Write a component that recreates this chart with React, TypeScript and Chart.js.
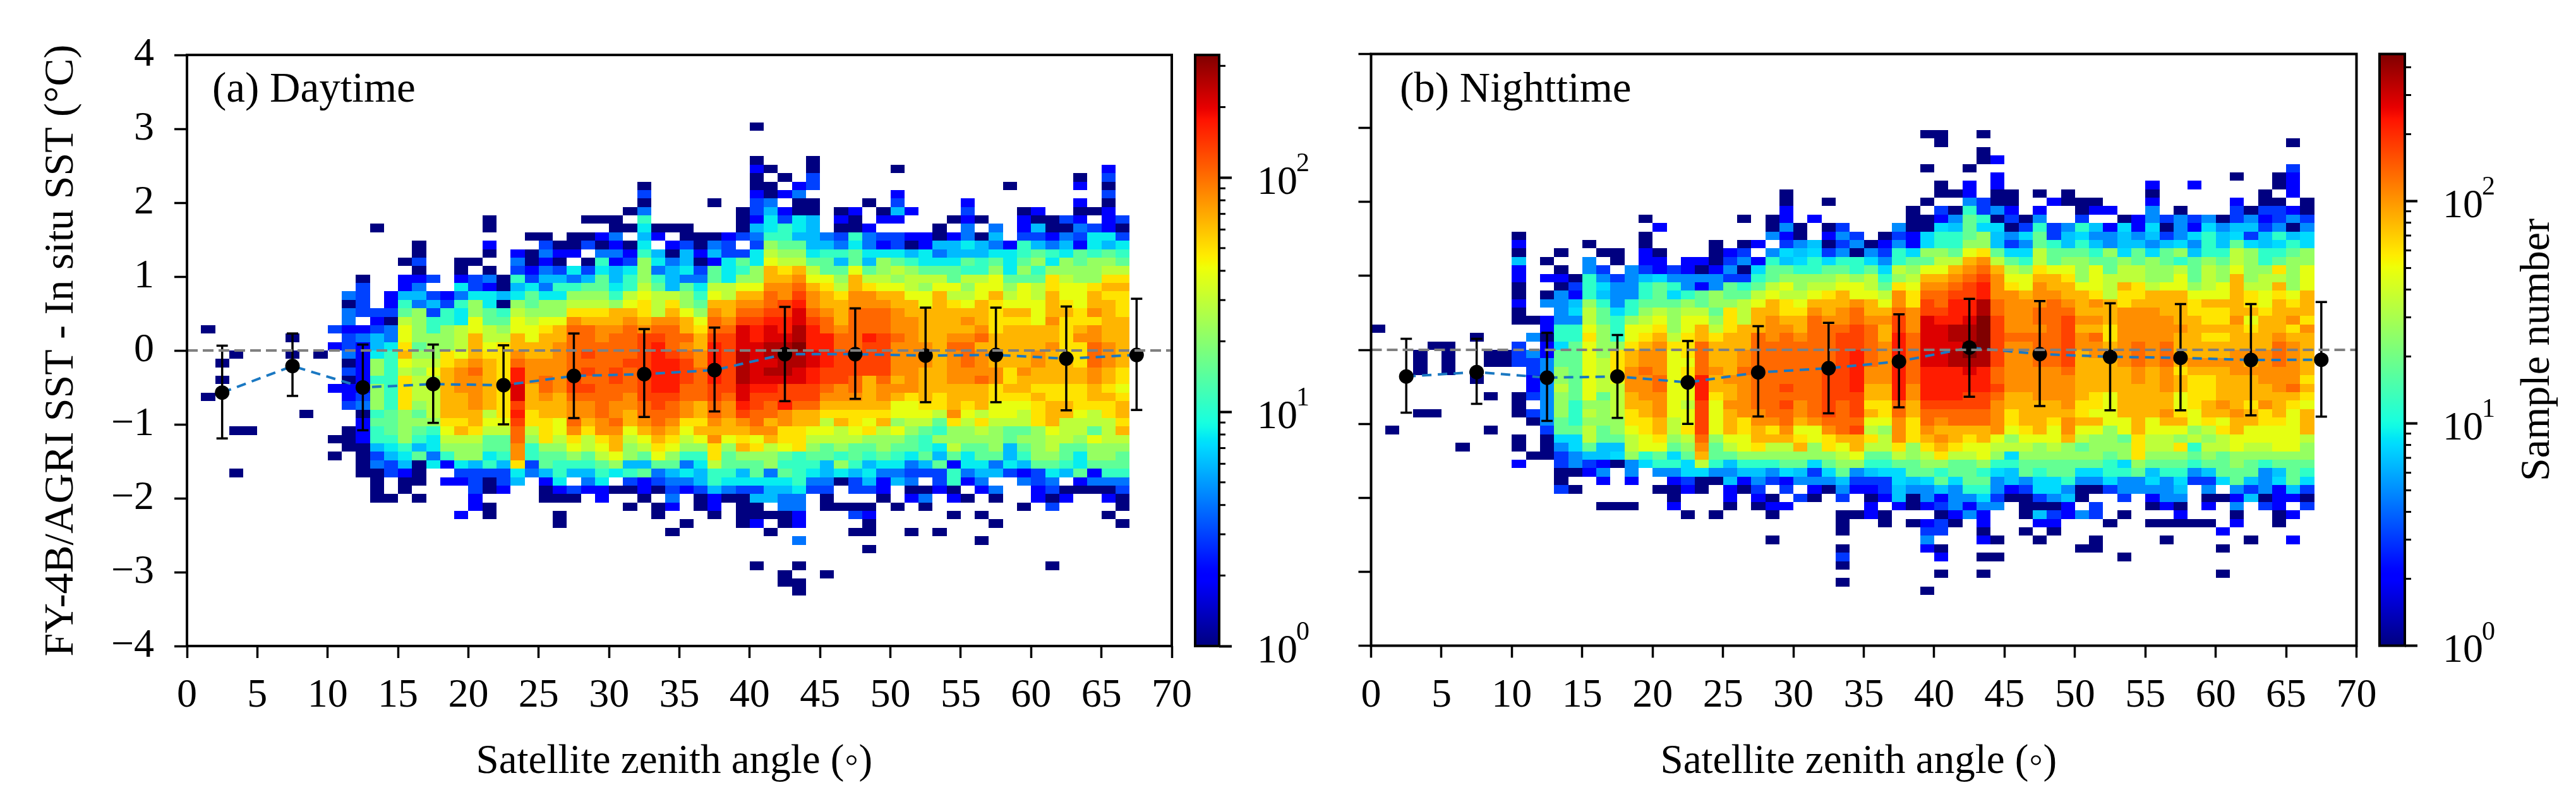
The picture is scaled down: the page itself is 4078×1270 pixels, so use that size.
import React, { useEffect, useRef } from "react";
import { Chart, registerables } from "chart.js";

Chart.register(...registerables);
Chart.defaults.font.family = '"Liberation Serif"';
Chart.defaults.color = "#000";

// ---- data ----
const MEAN_X = [2.5, 7.5, 12.5, 17.5, 22.5, 27.5, 32.5, 37.5, 42.5, 47.5, 52.5, 57.5, 62.5, 67.5];
const DAY_MEAN = [-0.57, -0.21, -0.5, -0.455, -0.47, -0.345, -0.32, -0.265, -0.05, -0.05, -0.07, -0.06, -0.11, -0.06];
const DAY_UP = [0.065, 0.23, 0.08, 0.08, 0.07, 0.23, 0.29, 0.31, 0.59, 0.57, 0.58, 0.58, 0.595, 0.7];
const DAY_LOW = [-1.19, -0.615, -1.08, -0.98, -1.0, -0.915, -0.9, -0.825, -0.686, -0.655, -0.7, -0.7, -0.81, -0.805];
const NIGHT_MEAN = [-0.36, -0.3, -0.376, -0.36, -0.44, -0.305, -0.248, -0.157, 0.03, -0.057, -0.094, -0.108, -0.137, -0.134];
const NIGHT_UP = [0.15, 0.15, 0.23, 0.2, 0.12, 0.32, 0.365, 0.48, 0.69, 0.66, 0.63, 0.62, 0.62, 0.647];
const NIGHT_LOW = [-0.85, -0.73, -0.96, -0.92, -1.0, -0.9, -0.857, -0.778, -0.635, -0.76, -0.818, -0.818, -0.886, -0.903];

const X_TICK_STEP = 5;
const BIN_H = 8 / 70;

// One character per 1-degree column, one string per row of the 70-row grid (top row = +4).
const LEVEL_CODES = "0123456789abcdefghij";
const DAY_COUNTS = [1, 2, 3, 4, 6, 8, 11, 15, 22, 29, 39, 49, 65, 83, 105, 133, 168, 210, 265, 330];
const NIGHT_COUNTS = [1, 2, 3, 5, 7, 8, 12, 18, 26, 35, 47, 60, 82, 105, 134, 172, 220, 280, 358, 459];
const DAY_VMAX = 334;
const NIGHT_VMAX = 459;

const DAY_FIRST_ROW = 8;
const DAY_ROWS = [
  ".......... .......... .......... .......... 0......... .......... .......",
  "",
  "",
  "",
  ".......... .......... .......... .......... 0...0..... .......... .......",
  ".......... .......... .......... .......... 10..0..... 0......... .....1.",
  ".......... .......... .......... .......... 0.0.2..... .......... ...0.2.",
  ".......... .......... .......... ..0....... 00.12..... ........0. ...1.0.",
  ".......... .......... .......... ..2....... 1013...... 1......... .....2.",
  ".......... .......... .......... ..0....0.. 23.00...0. 2....1.... ...1.0.",
  ".......... .......... .......... .03......0 24100.01.0 41...2...0 1..001.",
  ".......... .......... .0......00 0.6......0 15254.10.1 1...010..1 0021.12",
  ".......... ...0...... .0........ 005000...0 45654.001. ...0.3.3.1 4003210",
  ".......... .......... ....00.001 3.41.00012 3664432632 21101304.2 2132552",
  ".......... ......0... .1...20020 105.12032. 2877443531 2014454316 4341545",
  ".......... ......0... .0.10311.3 3164041422 5988566755 5453444556 7657676",
  ".......... .....02..0 0..3010.06 1285340157 5a99774748 7655576757 8587887",
  ".......... ......0..0 .0.2132525 4583452756 8cbc977a78 9877766858 6888899",
  ".......... ..0..112.1 2306244347 4686433758 8ccdaa8c99 8999799a77 7b988bb",
  ".......... ..2..13..5 2104536677 569747599a addecb9cba a98aa8aa8a 9baabcc",
  ".......... .32.144213 5545755888 69a9986a9c cedfdcbddc caac99ac9a 9caacbb",
  ".......... .02.163426 8508788999 8ab9b87ccd defgdccddd ccacbacbaa acbaccb",
  ".......... .322278265 8769888bbb ccb9ca8dce effhedceee dccccccbcc accbdcb",
  ".......... .3.1098665 a77a9aadcc cdcddcaedf fgghfeceee ddcccdcbbb adbbbcc",
  ".0........ 21123a8689 a98aabceed dedeecbeeh ghgigedeee ddccccdbcc ccbcdcc",
  ".......0.. .2343a8889 c99cacceed eeffeecffh ghhiggeegf edccddeccc ccbddcc",
  ".......... 12145b7889 cabcccdeee eefgedcgfh hiijggeeff dddceecccc cdbbedc",
  "...0...0.0 .3156c88ba cbbdccdefe eefgfedgfi hiiihgfeff dddcdedccc dcbbedc",
  "..0....... .0186a99bc dcbedddeee effggfdgfi hhiihgffff dddcdedccc dccbedc",
  ".......... .218698acd ecbgdddefe fefggfegfi hiihgfffff ddccddddbd ccccdcb",
  "..0....... .0166b99cd dcbgdedfee fefggfegfi hhhhgffece cdccddedbc ccccdcb",
  ".......... 11186b99cd dcbhcedffe eefggeeffh ggfffedecd ddcccccbcc bbbbcba",
  ".0........ .1286b99cc dcbhcdceee edfffeefeh fffffdddcd cbcbcccbbb cbbbccb",
  ".......... .2386b89cc dcbfcccdde ddefedcedg fegeeccccc aabbcbcaaa bccbbbc",
  "........0. ..067879cc c9bgbccdde dceeedcedf eedccbbbbb aaa9da9aa9 bcca9bc",
  ".......... ..177888bb caafbbaecd ecdedbbdcd ecdcc9cbac 8997b9b999 bc9999b",
  "...00..... .0167876ac b99e9badbd dacdcacccc ddbbaa9ab9 a876889877 8a9979c",
  ".......... 0016686599 977e8b9b9b c9acb9adab acbb999988 8768888878 8998a99",
  ".......... .004564588 877d688a9a c89ba88b8c b9ab878778 7765977847 8977888",
  ".......... 0.02457368 856d677879 a87a866b78 8876776767 6574757746 8875887",
  ".......... ..03240515 464b276667 8447735977 7866648645 5347155354 7765777",
  "...0...... ..00210..2 2225346446 5673454664 7376545453 3222634421 2547166",
  ".......... ...0.00.11 2024.15.35 .212334655 5556330241 43.2613..3 23.1333",
  ".......... ...0.0.... 201..01211 0010212432 244522.221 .0010.13.. 1200002",
  ".......... ...00.0... 1....000.1 ..0.3.0100 4433.0...0 .13.10.0.. 101..10",
  ".......... .......... 10........ .0.01.01.0 0.33.0000. 0.0......0 .2....0",
  ".......... .........1 .0....0... ...0...0.0 0001...21. ....0.0... .....0.",
  ".......... .......... ......0... .....0...0 1.01....0. .......0.. ......0",
  ".......... .......... .......... ....0..... .0.....00. .0.0...... .......",
  ".......... .......... .......... .......... ...3...... ......0... .......",
  ".......... .......... .......... .......... ........0. .......... .......",
  "",
  ".......... .......... .......... .......... 0..0...... .......... .0.....",
  ".......... .......... .......... .......... ..0..0.... .......... .......",
  ".......... .......... .......... .......... ..00...... .......... .......",
  ".......... .......... .......... .......... ...0...... .......... .......",
];

const NIGHT_FIRST_ROW = 9;
const NIGHT_ROWS = [
  ".......... .......... .......... .........0 0..0...... .......... .......",
  ".......... .......... .......... .......... 0......... .......... .....0.",
  ".......... .......... .......... .......... ...0...... .......... .......",
  ".......... .......... .......... .......... ...01..... .......... .......",
  ".......... .......... .......... .........0 ..0....... .......... .....2.",
  ".......... .......... .......... .......... ....1..... .......... .0..01.",
  ".......... .......... .......... .......... 0.1.1..... .....1..1. ....01.",
  ".......... .......... .........0 .......... 001.00.0.0 .....0.... ...0.1.",
  ".......... .......... .........0 ..0......0 ..3200..10 00...1.... .1.00.0",
  ".......... .......... .........1 ........0. 206231.1.. 011..3.0.. .202210",
  ".......... .........0 ......0.01 .1......00 13760203.. 2..0132323 0231232",
  ".......... .......... 1.......03 0.02...300 5475502623 6415150315 3442303",
  ".......... 0........0 ........31 0.132.0215 6678435724 5334342356 4524645",
  ".......... 1....0...0 ....0.01.2 3402301315 6688423764 6434434536 4754565",
  ".......... 0..0..00.1 0...012.35 4523032658 87ab755977 7685757846 6986678",
  ".......... 4.0..3.0.1 1.11023164 5656653677 99cd976978 8778787678 7986788",
  ".......... 1..0.32.32 1210130577 667767598a acdec98baa 8a79988979 8a88b8a",
  ".......... 1.11063234 5333322678 888989689c cdefdaaccb 8a99988a79 8c8998a",
  ".......... 0..0265336 763137679a 899aa97bad defgdbadcc aa9cb9aa89 ac99c8a",
  ".......... 0.03164336 75678779a9 9abcaa9dbe effgddcddc cb9bbcccaa acbabac",
  ".......... 1.33486367 7787889acb acccdcadbf eggieddded cdcbccccbc ccbacbc",
  ".......... 0..3597568 98997b9ccb bdcdeccedf fggieddeee cccdddccbb bccbccc",
  ".......... 0013397689 a8aa8b9cdc ceddeddfdh gghjfddeef ddcddddccb bdaccdb",
  "0......... ..166a86aa b8ac9bccdd ceeefecfdh hiijfdddef ccbdddddcc ccbccbd",
  ".......0.. .3066b86ab c9bcbccede deeffecgeh hiijfeeeef debddddccb bcccdcc",
  "....00.... 2.157a88bc dbbeccceee eeeffedgeh hhjjfddeef ddcdedeccc ccccedc",
  "...0.0..00 23177a8bcd dabeccdeee eeefgedgeh hijifddeef cdddedeccc cdddedc",
  "...0.0..00 22377a9bcd daaeccdeee eeefgedgeh hiiifddeef cccdedecdd ddcdedc",
  "...0.0.... .2387a9bde dabedceeee eeffgddgeg gghgedddde ccccdcdbcc cdddddc",
  ".......0.. .1387a9add eabgcddeee eeffgddgeg ggggeddddd ccccdcdcbb cccdddb",
  ".......... .1397a99dd eaagccdeef eeffgccgdg ggggfddddd ccccccdcbb ccccdec",
  "........0. 02387a79cd daagbcdeee eefffccgdg ggffeccddd cbaccccabb ccccccb",
  ".......... 0.386889cc da9faddeef defefbbecf ffffdccccd bbaccccabc dcbdcba",
  "...00..... 02386989bc daafacddee defefcbece eeeedbcccc baacccdbac cdcbcac",
  ".......... .0376888bb c9afacbdde cdeeeaadbe deeedbccbd ccaacaccab accbbac",
  ".0......0. ..277978ab c9bfacbcbd aadef98dbd ccccdabcad aa8acaaa89 bcaaaac",
  ".......... 0.0559779a b89e8aaccc babccb9dbc dcbca8aaac 9887b99898 9aaaaa9",
  "......0... 0.0357449a a78d79ab99 c8bac99b8b cbaa999898 7888b99b69 9a99aa8",
  ".......... .002344586 757c778888 8889a77989 b99a858888 8878b88878 7888888",
  ".......... 1..2321035 6659646667 7578866778 8778667777 7765877767 7876777",
  ".......... ...0013.3. 3355334435 4257345577 6776547677 5566746634 7773476",
  ".......... ...0..1.1. .120041321 3334222545 7577343556 3353353522 5743575",
  ".......... ...20..... 0010.102.2 .103112433 4366312553 00233334.3 .323142",
  ".......... .......... .0...1.10. 20.2.01403 1335200234 0..2.133.0 0140110",
  ".......... ......000. .1...0.011 .....1.101 23133.0001 .2...010.1 .3.21.2",
  ".......... .......... ..0.0...0. ...0010... 0131..0421 32.0...1.. .0..01.",
  ".......... .......... .......... ...0..0.01 20.1...11. ..0..00000 .1..0..",
  ".......... .......... .......... ...0.....2 2..0..0.0. .......... 1......",
  ".......... .......... ........0. .........3 ...10..0.. .0....0... ..0..1.",
  ".......... .......... .......... ...0.....1 0......... 00........ 0......",
  ".......... .......... .......... ...2...... 1..00..... ...0...... .......",
  ".......... .......... .......... ...0...... .......... .......... .......",
  ".......... .......... .......... .......... 0..0...... .......... 0......",
  ".......... .......... .......... ...0...... .......... .......... .......",
  ".......... .......... .......... .........0 .......... .......... .......",
];

const CB_MAJOR = [1, 10, 100];
const CB_EXPONENTS = ["0", "1", "2"];
const CB_MINOR_DAY = [2, 3, 4, 5, 6, 7, 8, 9, 20, 30, 40, 50, 60, 70, 80, 90, 200, 300];
const CB_MINOR_NIGHT = [2, 3, 4, 5, 6, 7, 8, 9, 20, 30, 40, 50, 60, 70, 80, 90, 200, 300, 400];

// ---- jet colour map ----
const JET_R = [[0, 0], [0.35, 0], [0.66, 1], [0.89, 1], [1, 0.5]];
const JET_G = [[0, 0], [0.125, 0], [0.375, 1], [0.64, 1], [0.91, 0], [1, 0]];
const JET_B = [[0, 0.5], [0.11, 1], [0.34, 1], [0.65, 0], [1, 0]];
function lerpStops(stops: number[][], t: number) {
  for (let i = 1; i < stops.length; i++) {
    if (t <= stops[i][0]) {
      const [a, va] = stops[i - 1];
      const [b, vb] = stops[i];
      return va + ((t - a) / (b - a)) * (vb - va);
    }
  }
  return stops[stops.length - 1][1];
}
function jet(t: number) {
  const f = Math.max(0, Math.min(1, t));
  const c = (s: number[][]) => Math.round(lerpStops(s, f) * 255);
  return `rgb(${c(JET_R)},${c(JET_G)},${c(JET_B)})`;
}

function heatPoints(rows: string[], firstRow: number, counts: number[]) {
  const pts: { x: number; y: number; v: number }[] = [];
  rows.forEach((raw, i) => {
    const row = raw.replace(/ /g, "");
    const r = firstRow + i;
    for (let c = 0; c < row.length; c++) {
      const k = LEVEL_CODES.indexOf(row[c]);
      if (k >= 0) pts.push({ x: c + 0.5, y: 4 - (r + 0.5) * BIN_H, v: counts[k] });
    }
  });
  return pts;
}

// ---- plugins ----
const heatPlugin = {
  id: "heatCells",
  beforeDatasetsDraw(chart: any) {
    const ds = chart.data.datasets.find((d: any) => d.label === "samples");
    if (!ds) return;
    const { x: sx, y: sy } = chart.scales;
    const { ctx } = chart;
    const logMax = Math.log10(ds.vmax);
    ctx.save();
    for (const p of ds.data) {
      const l = Math.round(sx.getPixelForValue(p.x - 0.5));
      const rr = Math.round(sx.getPixelForValue(p.x + 0.5));
      const t = Math.round(sy.getPixelForValue(p.y + BIN_H / 2));
      const b = Math.round(sy.getPixelForValue(p.y - BIN_H / 2));
      ctx.fillStyle = jet(Math.log10(p.v) / logMax);
      ctx.fillRect(l, t, rr - l, b - t);
    }
    ctx.restore();
  },
};

function framePlugin(label: string, labelX: number, labelY: number) {
  return {
    id: "frame",
    afterDraw(chart: any) {
      const { ctx, chartArea: a } = chart;
      ctx.save();
      ctx.strokeStyle = "#000";
      ctx.lineWidth = 4;
      ctx.strokeRect(a.left, a.top, a.right - a.left, a.bottom - a.top);
      ctx.fillStyle = "#000";
      ctx.font = '67px "Liberation Serif"';
      ctx.textBaseline = "alphabetic";
      ctx.fillText(label, labelX, labelY);
      ctx.restore();
    },
  };
}

function colorbarPlugin(minor: number[], title?: string) {
  return {
    id: "colorbar",
    beforeDraw(chart: any) {
      const { ctx, chartArea: a } = chart;
      const g = ctx.createLinearGradient(0, a.bottom, 0, a.top);
      for (let i = 0; i <= 100; i++) g.addColorStop(i / 100, jet(i / 100));
      ctx.fillStyle = g;
      ctx.fillRect(a.left, a.top, a.right - a.left, a.bottom - a.top);
    },
    afterDraw(chart: any) {
      const { ctx, chartArea: a, scales } = chart;
      ctx.save();
      ctx.strokeStyle = "#000";
      ctx.lineWidth = 4;
      ctx.strokeRect(a.left, a.top, a.right - a.left, a.bottom - a.top);
      ctx.lineWidth = 3;
      for (const v of minor) {
        const y = scales.y.getPixelForValue(v);
        ctx.beginPath();
        ctx.moveTo(a.right, y);
        ctx.lineTo(a.right + 10, y);
        ctx.stroke();
      }
      ctx.fillStyle = "#000";
      ctx.font = '42px "Liberation Serif"';
      ctx.textBaseline = "alphabetic";
      CB_MAJOR.forEach((v, i) => {
        ctx.fillText(CB_EXPONENTS[i], a.right + 122, scales.y.getPixelForValue(v) - 10);
      });
      if (title) {
        ctx.translate(4035 - 3755, (a.top + a.bottom) / 2);
        ctx.rotate(-Math.PI / 2);
        ctx.font = '66px "Liberation Serif"';
        ctx.textAlign = "center";
        ctx.fillText(title, 0, 0);
      }
      ctx.restore();
    },
  };
}

// ---- chart builders ----
function panelConfig(o: any) {
  const errData: any[] = [];
  MEAN_X.forEach((x, i) => {
    errData.push({ x, y: o.low[i] }, { x, y: o.up[i] }, { x: null, y: null });
  });
  const means = MEAN_X.map((x, i) => ({ x, y: o.mean[i] }));
  return {
    type: "scatter",
    data: {
      datasets: [
        {
          label: "zero",
          data: [{ x: 0, y: 0 }, { x: 70, y: 0 }],
          showLine: true,
          borderColor: "#808080",
          borderWidth: 4,
          borderDash: [17, 8],
          pointRadius: 0,
        },
        {
          label: "mean",
          data: means,
          pointRadius: 11.5,
          pointBackgroundColor: "#000",
          pointBorderWidth: 0,
        },
        {
          label: "std",
          data: errData,
          showLine: true,
          spanGaps: false,
          borderColor: "#000",
          borderWidth: 3.5,
          pointStyle: "line",
          pointRadius: 9,
          pointBorderColor: "#000",
          pointBorderWidth: 3.5,
        },
        {
          label: "meanLine",
          data: means,
          showLine: true,
          borderColor: "#1a78c2",
          borderWidth: 4,
          borderDash: [15, 10],
          pointRadius: 0,
        },
        { label: "samples", data: o.points, vmax: o.vmax, pointRadius: 0 },
      ],
    },
    options: {
      responsive: false,
      animation: false,
      devicePixelRatio: 1,
      layout: { padding: { left: 0, top: o.top, right: o.right, bottom: 0 } },
      plugins: { legend: { display: false }, tooltip: { enabled: false } },
      scales: {
        x: {
          type: "linear",
          min: 0,
          max: 70,
          border: { display: false },
          grid: { drawOnChartArea: false, tickLength: 19, tickWidth: 3.5, tickColor: "#000" },
          ticks: { stepSize: X_TICK_STEP, font: { size: 64 }, padding: 22, maxRotation: 0, autoSkip: false },
          title: {
            display: true,
            text: "Satellite zenith angle (\u25e6) ",
            font: { size: 65 },
            padding: { top: 0, bottom: 24 },
          },
          afterFit(s: any) {
            s.height = o.xHeight;
            s.paddingLeft = 0;
            s.paddingRight = 0;
          },
        },
        y: {
          type: "linear",
          min: -4,
          max: 4,
          border: { display: false },
          grid: { drawOnChartArea: false, tickLength: 20, tickWidth: 3.5, tickColor: "#000" },
          ticks: {
            stepSize: 1,
            font: { size: 64 },
            padding: 32,
            autoSkip: false,
            callback: o.showY ? (v: number) => String(v).replace("-", "\u2212") : () => "",
          },
          title: o.showY
            ? {
                display: true,
                text: "FY-4B/AGRI SST - In situ SST (\u00b0C)",
                font: { size: 66 },
                padding: { top: 58, bottom: 0 },
              }
            : { display: false },
          afterFit(s: any) {
            s.width = o.yWidth;
            s.paddingTop = 0;
            s.paddingBottom = 0;
          },
        },
      },
    },
    plugins: [heatPlugin, framePlugin(o.label, o.labelX, o.labelY)],
  };
}

function colorbarConfig(o: any) {
  return {
    type: "line",
    data: { labels: [], datasets: [] },
    options: {
      responsive: false,
      animation: false,
      devicePixelRatio: 1,
      layout: { padding: { left: o.padLeft, top: o.top, right: 0, bottom: o.bottom } },
      plugins: { legend: { display: false }, tooltip: { enabled: false } },
      scales: {
        x: { display: false },
        y: {
          type: "logarithmic",
          position: "right",
          min: 1,
          max: o.vmax,
          border: { display: false },
          grid: { drawOnChartArea: false, tickLength: 20, tickWidth: 4, tickColor: "#000" },
          ticks: {
            font: { size: 64 },
            padding: 40,
            labelOffset: 9,
            autoSkip: false,
            maxRotation: 0,
            callback: (v: number) => (CB_MAJOR.includes(v) ? "10" : ""),
          },
          afterBuildTicks(s: any) {
            s.ticks = CB_MAJOR.map((value) => ({ value }));
          },
          afterFit(s: any) {
            s.width = o.yWidth;
            s.paddingTop = 0;
            s.paddingBottom = 0;
          },
        },
      },
    },
    plugins: [colorbarPlugin(o.minor, o.title)],
  };
}

const LAYOUT = [
  { left: 0, width: 1900 },
  { left: 1880, width: 260 },
  { left: 2130, width: 1660 },
  { left: 3755, width: 323 },
];

export default function App() {
  const refs = [useRef<HTMLCanvasElement>(null), useRef<HTMLCanvasElement>(null), useRef<HTMLCanvasElement>(null), useRef<HTMLCanvasElement>(null)];
  useEffect(() => {
    const configs: any[] = [
      panelConfig({
        points: heatPoints(DAY_ROWS, DAY_FIRST_ROW, DAY_COUNTS),
        vmax: DAY_VMAX,
        mean: DAY_MEAN,
        up: DAY_UP,
        low: DAY_LOW,
        top: 87,
        right: 45,
        xHeight: 247,
        yWidth: 296,
        showY: true,
        label: "(a) Daytime",
        labelX: 336,
        labelY: 161,
      }),
      colorbarConfig({ vmax: DAY_VMAX, padLeft: 12, top: 87, bottom: 247, yWidth: 210, minor: CB_MINOR_DAY }),
      panelConfig({
        points: heatPoints(NIGHT_ROWS, NIGHT_FIRST_ROW, NIGHT_COUNTS),
        vmax: NIGHT_VMAX,
        mean: NIGHT_MEAN,
        up: NIGHT_UP,
        low: NIGHT_LOW,
        top: 85.5,
        right: 59.5,
        xHeight: 247.5,
        yWidth: 40.5,
        showY: false,
        label: "(b) Nighttime",
        labelX: 86,
        labelY: 161,
      }),
      colorbarConfig({
        vmax: NIGHT_VMAX,
        padLeft: 12,
        top: 85.5,
        bottom: 247.5,
        yWidth: 271,
        minor: CB_MINOR_NIGHT,
        title: "Sample number",
      }),
    ];
    const charts = configs.map((cfg, i) => new Chart(refs[i].current as HTMLCanvasElement, cfg));
    return () => charts.forEach((c) => c.destroy());
  }, []);
  return (
    <div style={{ position: "absolute", left: 0, top: 0, width: 4078, height: 1270, background: "#fff", overflow: "hidden" }}>
      {LAYOUT.map((b, i) => (
        <canvas
          key={i}
          ref={refs[i]}
          width={b.width}
          height={1270}
          style={{ position: "absolute", left: b.left, top: 0, width: b.width, height: 1270, display: "block" }}
        />
      ))}
    </div>
  );
}
